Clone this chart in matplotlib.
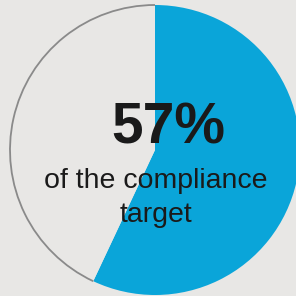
import matplotlib
matplotlib.use('Agg')
import matplotlib.pyplot as plt
from matplotlib.patches import Arc

# data
values = [57, 43]
labels = ['compliant', 'remaining']
colors = ['#0aa5d9', '#e8e7e5']
big_text = '57%'
sub_lines = ['of the compliance', 'target']

bg = '#e8e7e5'
plt.rcParams['font.family'] = ['Liberation Sans', 'DejaVu Sans']

fig = plt.figure(figsize=(2.96, 2.96), dpi=100, facecolor=bg)
ax = fig.add_axes([0, 0, 1, 1])
ax.set_facecolor(bg)

cx, cy, r = 155, 146, 145
ax.pie(values, colors=colors, startangle=90, counterclock=False,
       radius=r, center=(cx, cy), wedgeprops=dict(linewidth=0))

# grey outline only on the remaining part
gray_span = values[1] / sum(values) * 360
ax.add_patch(Arc((cx, cy), 2 * r, 2 * r, theta1=90, theta2=90 + gray_span,
                 color='#8a8a8a', lw=1.3))

ax.text(168, 296 - 143, big_text, ha='center', va='baseline',
        fontsize=41, fontweight='bold', color='#1a1a1a')
ax.text(156, 296 - 188, sub_lines[0], ha='center', va='baseline',
        fontsize=20.5, color='#1a1a1a')
ax.text(156, 296 - 222, sub_lines[1], ha='center', va='baseline',
        fontsize=20.5, color='#1a1a1a')

ax.set_xlim(0, 296)
ax.set_ylim(0, 296)
ax.set_aspect('auto')
ax.axis('off')

plt.savefig('out.png', dpi=100, facecolor=bg)
